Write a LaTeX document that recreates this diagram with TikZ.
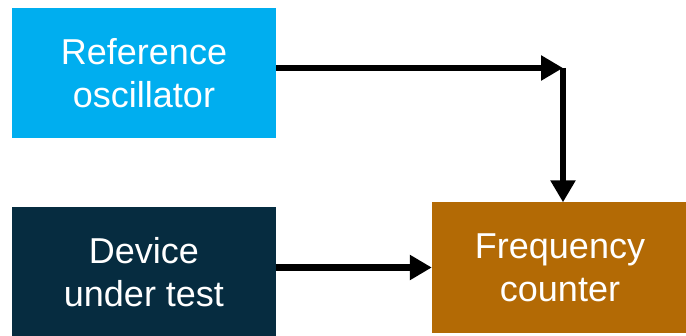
\documentclass[tikz,border=0pt]{standalone}
\usepackage{fontspec}
\setmainfont{Liberation Sans}
\usetikzlibrary{arrows.meta}
\definecolor{refblue}{HTML}{00AEEF}
\definecolor{dutnavy}{HTML}{062C40}
\definecolor{cntbrown}{HTML}{B36A05}
\tikzset{
  block/.style={draw=none, minimum height=130pt, inner sep=0pt, align=center,
    text=white, font=\fontsize{36}{43}\selectfont},
  signal/.style={line width=6.5pt, -{Triangle[length=22pt,width=24pt]}}
}
\begin{document}
\begin{tikzpicture}[x=1pt,y=1pt]
  \useasboundingbox (0,0) rectangle (686,335);
  % signal sources and the counter
  \node[block, fill=refblue, minimum width=264pt] (ref) at (144,262) {Reference\\oscillator};
  \node[block, fill=dutnavy, minimum width=264pt] (dut) at (144,63) {Device\\under test};
  \node[block, fill=cntbrown, minimum width=256pt] (fc) at (560,67.5) {Frequency\\counter};
  % routing corner for the reference path
  \coordinate (corner) at (563,267);
  % connections
  \draw[signal] (ref.east |- corner) -- (corner);
  \draw[signal] (corner) -- (corner |- fc.north);
  \draw[signal] (dut.east |- fc.west) -- (fc.west);
\end{tikzpicture}
\end{document}
